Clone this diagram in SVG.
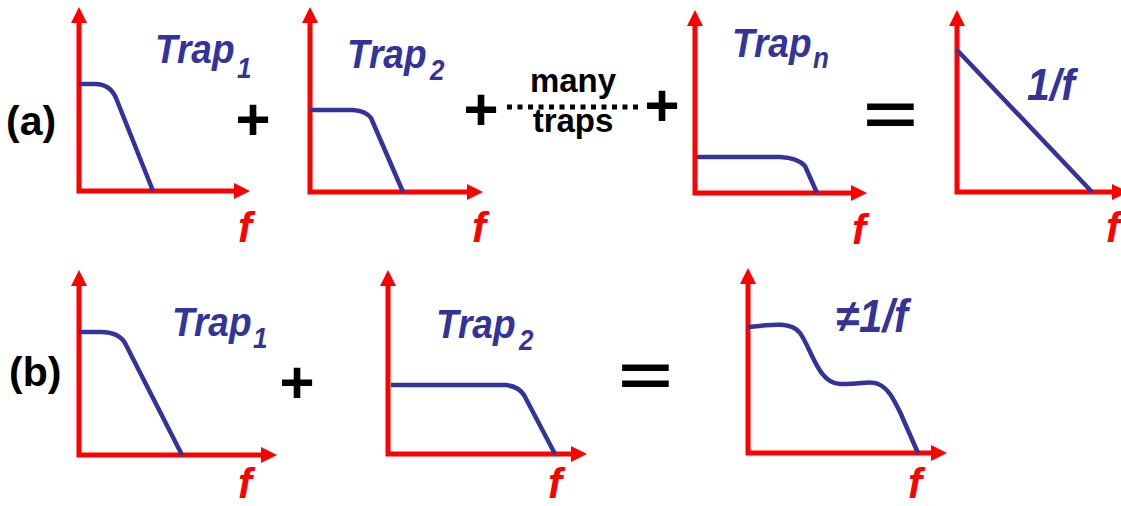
<svg xmlns="http://www.w3.org/2000/svg" width="1121" height="506" viewBox="0 0 1121 506">
<style>
.ax{fill:none;stroke:#ff0000;stroke-width:5;stroke-linejoin:miter;marker-start:url(#ah);marker-end:url(#ah)}
.cv{fill:none;stroke:#333399;stroke-width:4.5;stroke-linecap:butt;stroke-linejoin:round}
.lb{font-family:"Liberation Sans",Arial,sans-serif;font-weight:bold;font-style:italic;fill:#333399;font-size:37px}
.sb{font-size:26px}
.fl{font-family:"Liberation Sans",Arial,sans-serif;font-weight:bold;font-style:italic;fill:#ff0000;font-size:42px}
.op{font-family:"Liberation Sans",Arial,sans-serif;font-weight:bold;fill:#000;font-size:60px;text-anchor:middle}
.tg{font-family:"Liberation Sans",Arial,sans-serif;font-weight:bold;fill:#000;font-size:41px}
.mt{font-family:"Liberation Sans",Arial,sans-serif;font-weight:bold;fill:#000;font-size:33px;text-anchor:middle}
</style>
<defs>
<marker id="ah" markerUnits="userSpaceOnUse" markerWidth="18" markerHeight="18" refX="0" refY="8" orient="auto-start-reverse" overflow="visible">
<path d="M0,0 L16,8 L0,16 Z" fill="#ff0000"/>
</marker>
</defs>
<rect width="1121" height="506" fill="#ffffff"/>

<g id="labels">
<text class="tg" x="6" y="135">(a)</text>
<text class="tg" x="9" y="386">(b)</text>
</g>

<g id="a1">
<path class="ax" d="M79,23 V191 H234"/>
<path class="cv" d="M79,84 H95 Q110,84 116,98 L153,191"/>
<text class="lb" transform="translate(155,63) scale(1,1.12)">Trap<tspan class="sb" x="82" y="13">1</tspan></text>
<text class="fl" x="238" y="242">f</text>
</g>

<g id="a2">
<path class="ax" d="M310,23 V192 H467"/>
<path class="cv" d="M310,110 H353 Q366,111 371,118 L403,192"/>
<text class="lb" transform="translate(347,68) scale(1,1.12)">Trap<tspan class="sb" x="83" y="11">2</tspan></text>
<text class="fl" x="472" y="242">f</text>
</g>

<g id="a3">
<path class="ax" d="M695,26 V193 H851"/>
<path class="cv" d="M697,157 H780 Q798,158 805,166 L817,193"/>
<text class="lb" transform="translate(732,57) scale(1,1.12)">Trap<tspan class="sb" x="81" y="10">n</tspan></text>
<text class="fl" x="852" y="244">f</text>
</g>

<g id="a4">
<path class="ax" d="M957,26 V192 H1112"/>
<path class="cv" d="M957,50 L1092,192"/>
<text class="lb" transform="translate(1027,100) scale(1,1.1)" style="font-size:41px">1/f</text>
<text class="fl" x="1106" y="242">f</text>
</g>

<g id="b1">
<path class="ax" d="M79,286 V455 H261"/>
<path class="cv" d="M79,332 H101 Q120,332 126,345 L182,455"/>
<text class="lb" transform="translate(172,336) scale(1,1.12)">Trap<tspan class="sb" x="81" y="11">1</tspan></text>
<text class="fl" x="238" y="498">f</text>
</g>

<g id="b2">
<path class="ax" d="M388,286 V454 H571"/>
<path class="cv" d="M391,385 H505 Q518,386 524,395 L555,454"/>
<text class="lb" transform="translate(436,338) scale(1,1.12)">Trap<tspan class="sb" x="83" y="11">2</tspan></text>
<text class="fl" x="548" y="498">f</text>
</g>

<g id="b3">
<path class="ax" d="M748,284 V453 H931"/>
<path class="cv" d="M748,327 C775,324 792,322 800,333 C812,350 818,383 840,384 C860,385 870,380 878,384 C888,388 893,398 900,412 L918,453"/>
<text class="lb" transform="translate(836,332) scale(1,1.1)" style="font-size:42px">≠1/f</text>
<text class="fl" x="908" y="498">f</text>
</g>

<g id="operators">
<text class="op" x="253" y="140">+</text>
<text class="op" x="481" y="130">+</text>
<text class="op" x="662" y="126">+</text>
<text class="op" x="297" y="403">+</text>
<text class="op" transform="translate(890.5,134) scale(1.55,1)" x="0" y="0">=</text>
<text class="op" transform="translate(645.5,395) scale(1.55,1)" x="0" y="0">=</text>
</g>

<g id="many">
<line x1="507" y1="107" x2="638" y2="107" stroke="#000" stroke-width="5" stroke-dasharray="5 5.5"/>
<text class="mt" x="573" y="92">many</text>
<text class="mt" x="573" y="132">traps</text>
</g>
</svg>
